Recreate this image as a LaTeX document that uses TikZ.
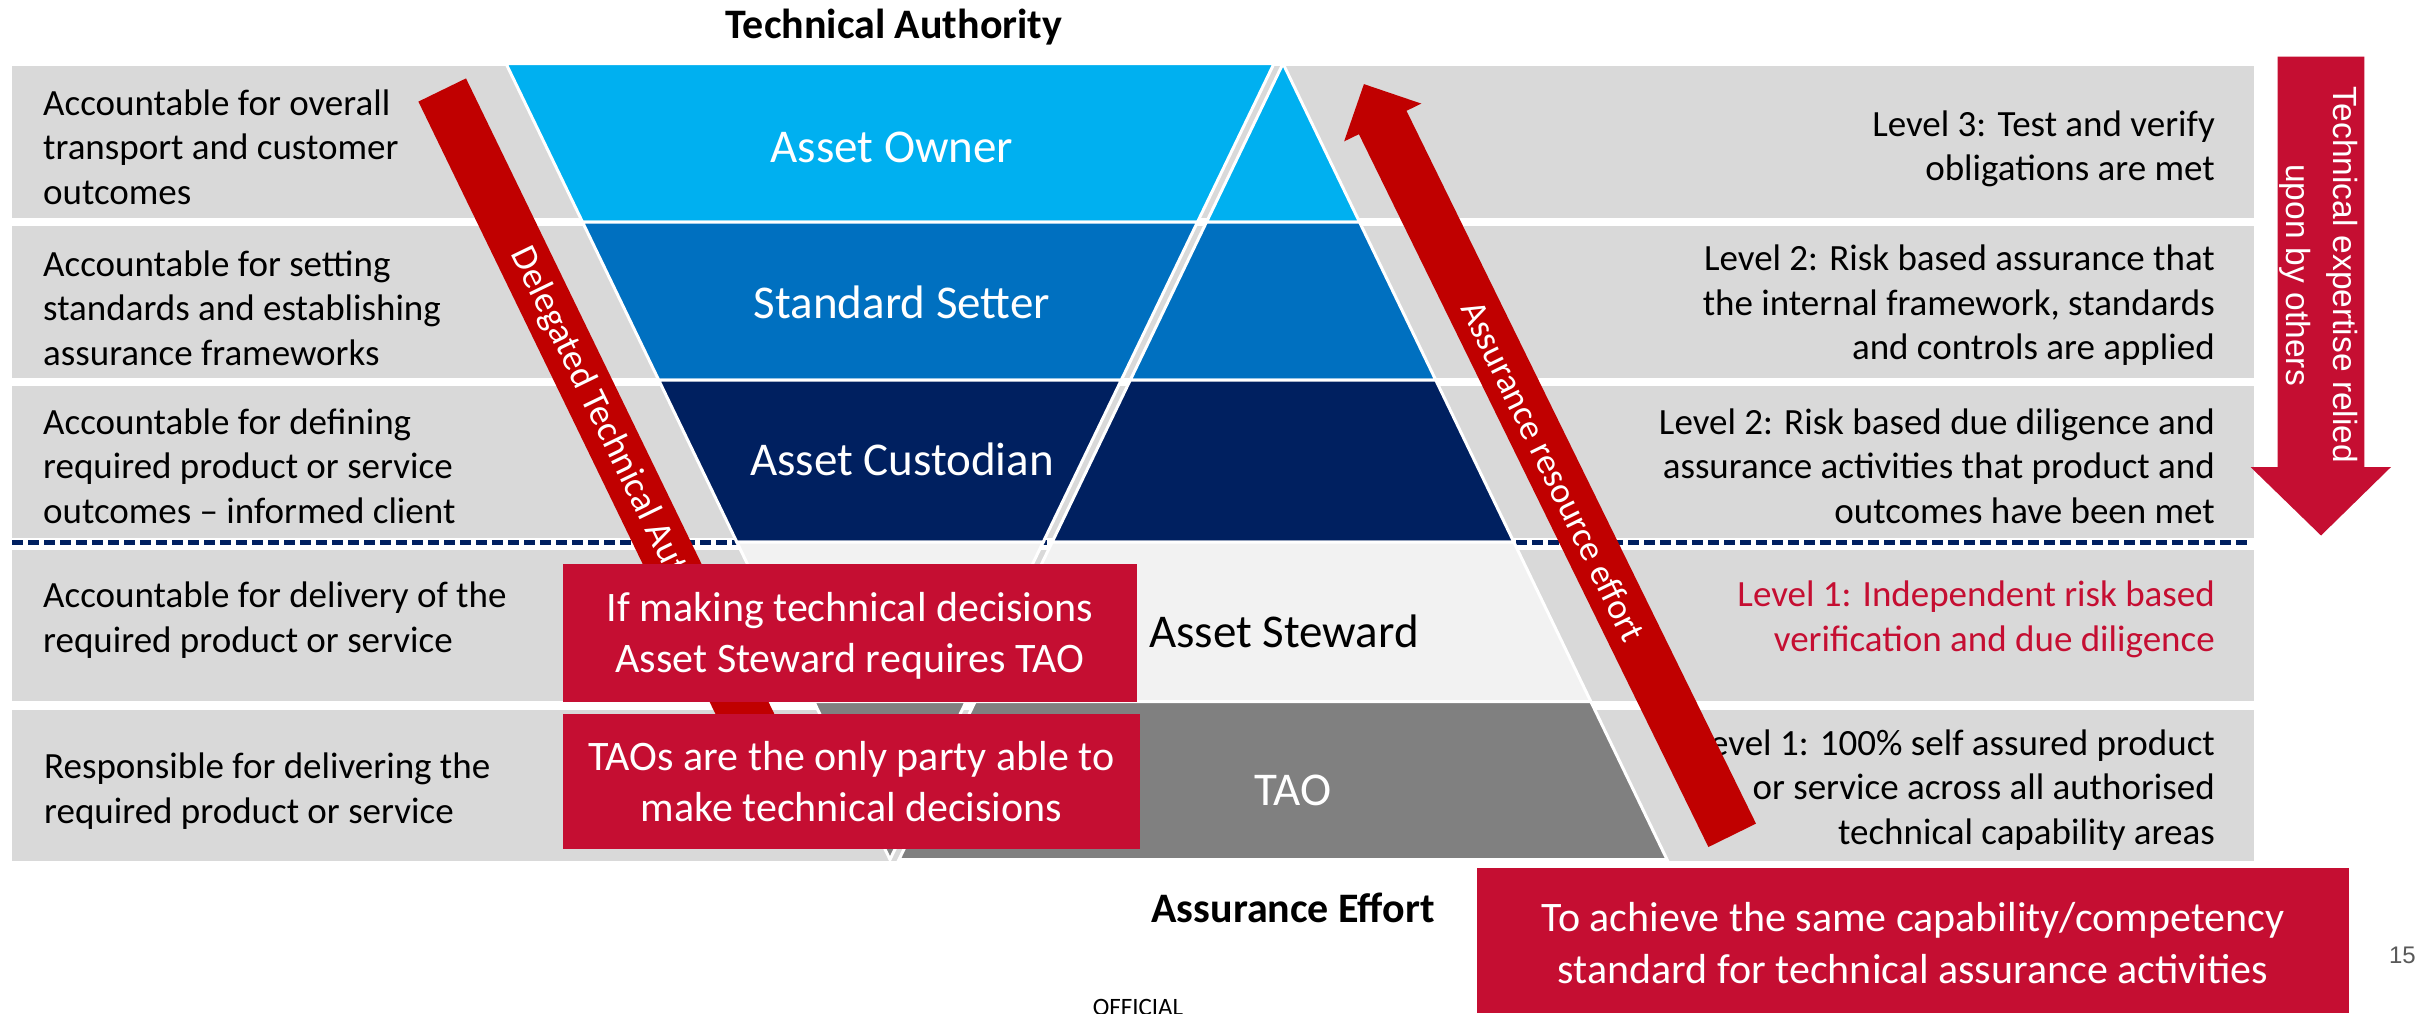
\documentclass[tikz,border=0pt]{standalone}
\usepackage{fontspec}
\setmainfont{Carlito}
\newfontfamily\arialfam{Liberation Sans}
\definecolor{rowgrey}{HTML}{D9D9D9}
\definecolor{lblue}{HTML}{00B0F0}
\definecolor{mblue}{HTML}{0070C0}
\definecolor{dnavy}{HTML}{002060}
\definecolor{lgrey}{HTML}{F2F2F2}
\definecolor{mgrey}{HTML}{808080}
\definecolor{darkred}{HTML}{C00000}
\definecolor{crimson}{HTML}{C50E32}
\definecolor{pagegrey}{HTML}{595959}
\newcommand{\fsL}{\fontsize{37pt}{44.5pt}\selectfont}
\newcommand{\fsArrow}{\fontsize{37pt}{44pt}\selectfont}
\newcommand{\fsBig}{\fontsize{47pt}{56pt}\selectfont}
\newcommand{\fsBox}{\fontsize{42pt}{51.5pt}\selectfont}
\newcommand{\fsHead}{\fontsize{42pt}{50pt}\selectfont\bfseries}
\newcommand{\fsSide}{\arialfam\fontsize{33.5pt}{46.7pt}\selectfont}
\tikzset{
  rowband/.style={fill=rowgrey},
  band/.style={draw=white, line width=3pt, line join=miter},
  lefttxt/.style={anchor=base west, align=left, inner sep=0pt, font=\fsL, text=black},
  righttxt/.style={anchor=base east, align=right, inner sep=0pt, font=\fsL, text=black},
  biglbl/.style={anchor=base, inner sep=0pt, font=\fsBig},
  boxtxt/.style={anchor=base, align=center, inner sep=0pt, font=\fsBox, text=white},
  redbox/.style={fill=crimson},
  arrowtxt/.style={anchor=center, inner sep=0pt, font=\fsArrow, text=white},
  headtxt/.style={anchor=base, inner sep=0pt, font=\fsHead, text=black}
}
\begin{document}
\begin{tikzpicture}[x=1pt,y=-1pt]
\useasboundingbox (0,0) rectangle (2418,1013);
\fill[white] (0,0) rectangle (2418,1013);
% grey rows
\fill[rowband] (12,66) rectangle (2254,218);
\fill[rowband] (12,226) rectangle (2254,377.7);
\fill[rowband] (12,386) rectangle (2254,537.7);
\fill[rowband] (12,550) rectangle (2254,701);
\fill[rowband] (12,710) rectangle (2254,861);
% dashed separator
\draw[dnavy, line width=5pt, dash pattern=on 11pt off 5pt] (12,542.3) -- (2247,542.3);
% inverted funnel
\path[band, fill=lblue] (506,63.5) -- (1274,63.5) -- (1197.5,222) -- (582.5,222) -- cycle;
\path[band, fill=mblue] (582.5,222) -- (1197.5,222) -- (1121.3,380) -- (658.7,380) -- cycle;
\path[band, fill=dnavy] (658.7,380) -- (1121.3,380) -- (1043.2,542) -- (736.8,542) -- cycle;
\path[band, fill=lgrey] (736.8,542) -- (1043.2,542) -- (966.2,701.5) -- (813.8,701.5) -- cycle;
\path[band, fill=mgrey] (813.8,701.5) -- (966.2,701.5) -- (890,859.5) -- cycle;
% upright pyramid
\path[band, fill=lblue] (1283,63.5) -- (1359.5,222) -- (1206.5,222) -- cycle;
\path[band, fill=mblue] (1206.5,222) -- (1359.5,222) -- (1435.7,380) -- (1130.3,380) -- cycle;
\path[band, fill=dnavy] (1130.3,380) -- (1435.7,380) -- (1513.8,542) -- (1052.2,542) -- cycle;
\path[band, fill=lgrey] (1052.2,542) -- (1513.8,542) -- (1590.8,701.5) -- (975.2,701.5) -- cycle;
\path[band, fill=mgrey] (975.2,701.5) -- (1590.8,701.5) -- (1667,859.5) -- (899,859.5) -- cycle;
% level labels
\node[biglbl, text=white] (owner) at (892,162) {Asset Owner};
\node[biglbl, text=white] (setter) at (902,318) {Standard Setter};
\node[biglbl, text=white] (custodian) at (902,475) {Asset Custodian};
\node[biglbl, text=black] (steward) at (1284,647) {Asset Steward};
\node[biglbl, text=white] (tao) at (1293,805) {TAO};
% left descriptions (anchor = baseline of last line)
\node[lefttxt] (l1) at (43,204) {Accountable for overall\\transport and customer\\outcomes};
\node[lefttxt] (l2) at (43,365) {Accountable for setting\\standards and establishing\\assurance frameworks};
\node[lefttxt] (l3) at (43,523) {Accountable for defining\\required product or service\\outcomes – informed client};
\node[lefttxt] (l4) at (43,652) {Accountable for delivery of the\\required product or service};
\node[lefttxt] (l5) at (44,823) {Responsible for delivering the\\required product or service};
% right descriptions
\node[righttxt] (r1) at (2215,180.5) {Level 3: Test and verify\\obligations are met};
\node[righttxt] (r2) at (2215,359.5) {Level 2: Risk based assurance that\\the internal framework, standards\\and controls are applied};
\node[righttxt] (r3) at (2215,523) {Level 2: Risk based due diligence and\\assurance activities that product and\\outcomes have been met};
\node[righttxt, text=crimson] (r4) at (2215,651) {Level 1: Independent risk based\\verification and due diligence};
\node[righttxt] (r5) at (2215,844) {Level 1: 100\% self assured product\\or service across all authorised\\technical capability areas};
% delegated technical authority arrow
\fill[darkred] (466.0,78.4) -- (813.9,795.5) -- (828.8,788.3) -- (808.9,845.7) -- (751.4,825.9) -- (766.3,818.7) -- (418.4,101.6) -- cycle;
\node[arrowtxt, rotate=-64.1] (dta) at (617.7,451.7) {Delegated Technical Authority};
% assurance resource effort arrow
\fill[darkred] (1708.4,847.0) -- (1756.0,823.6) -- (1406.5,110.8) -- (1421.3,103.6) -- (1363.9,84.1) -- (1344.1,141.4) -- (1358.9,134.2) -- cycle;
\node[arrowtxt, font=\fontsize{36pt}{43pt}\selectfont, rotate=-63.9] (are) at (1553.5,470.9) {Assurance resource effort};
% technical expertise arrow
\fill[crimson] (2277.7,56.7) -- (2364.3,56.7) -- (2364.3,467) -- (2391,467) -- (2321,535.5) -- (2250.5,467) -- (2277.7,467) -- cycle;
\node[anchor=center, align=center, inner sep=0pt, font=\fsSide, text=white, rotate=-90] (ter) at (2318.5,275) {Technical expertise relied\\upon by others};
% red boxes
\path[redbox] (563,564) rectangle (1137,702);
\node[boxtxt] (b1) at (850,672.5) {If making technical decisions\\Asset Steward requires TAO};
\path[redbox] (563,714) rectangle (1140,849);
\node[boxtxt] (b2) at (851.5,821.5) {TAOs are the only party able to\\make technical decisions};
\path[redbox] (1477,868) rectangle (2349,1013);
\node[boxtxt] (b3) at (1913,983) {To achieve the same capability/competency\\standard for technical assurance activities};
% headings
\node[headtxt] (ta) at (894,38) {Technical Authority};
\node[headtxt] (ae) at (1293,922) {Assurance Effort};
\node[anchor=base east, inner sep=0pt, font=\arialfam\fontsize{24pt}{28pt}\selectfont, text=pagegrey] (pg) at (2416,963) {15};
\node[anchor=base, inner sep=0pt, font=\fontsize{25pt}{30pt}\selectfont, text=black] (off) at (1138,1015) {OFFICIAL};
\end{tikzpicture}
\end{document}
